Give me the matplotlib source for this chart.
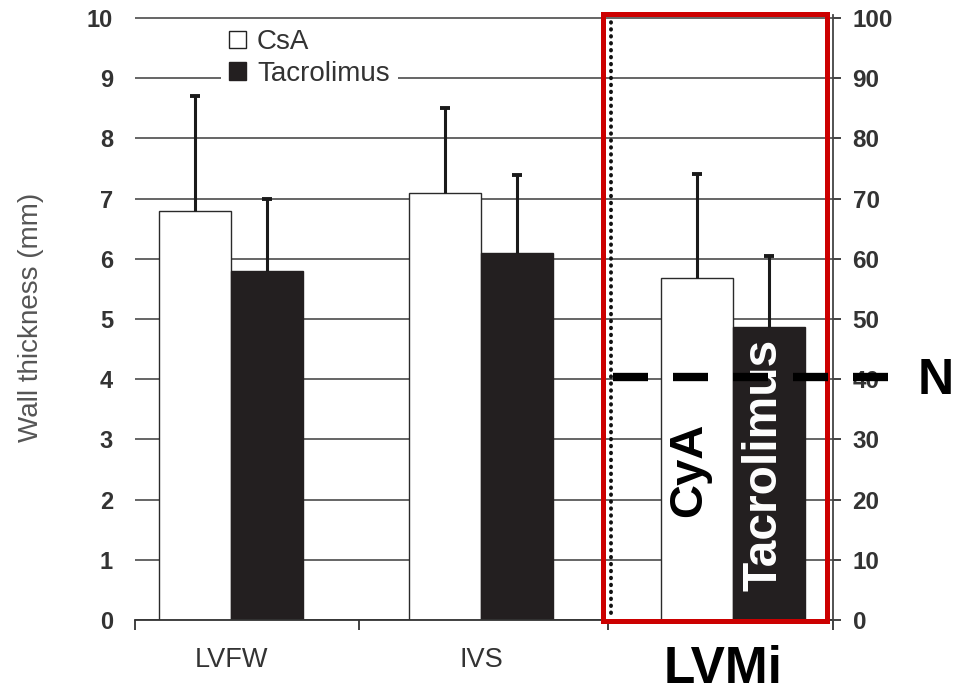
import matplotlib
matplotlib.use("Agg")
import matplotlib.pyplot as plt
import numpy as np
from matplotlib.patches import Patch, Rectangle

plt.rcParams['font.family'] = ['Liberation Sans', 'DejaVu Sans']
plt.rcParams['lines.scale_dashes'] = False

# ---- data ----
groups = ["LVFW", "IVS", "LVMi"]
series = ["CsA", "Tacrolimus"]
wall_csa = [6.8, 7.1]          # mm
wall_csa_sd = [1.9, 1.4]
wall_tac = [5.8, 6.1]          # mm
wall_tac_sd = [1.2, 1.3]
lvmi_csa = [56.8]              # right-hand scale
lvmi_csa_sd = [17.3]
lvmi_tac = [48.6]
lvmi_tac_sd = [11.9]
lvmi_normal = 40.3
left_ticks = list(range(0, 11))
right_ticks = list(range(0, 101, 10))

# ---- layout ----
centers = np.array([0.413, 1.487, 2.570])
bounds = [0.0, 0.963, 2.033, 3.0]
w = 0.309
ink = '#231f20'
txt = '#333333'


def upper_errorbar(axis, x, y, sd):
    """One-sided (upward) error bar with a cap only at the top."""
    n = len(y)
    _, caps, _ = axis.errorbar(x, y, yerr=[np.zeros(n), sd], fmt='none',
                               ecolor='#1a1a1a', elinewidth=2.2, capsize=3.8,
                               capthick=2.8, zorder=3)
    caps[0].set_visible(False)


fig = plt.figure(figsize=(9.55, 6.94), dpi=100)
ax = fig.add_axes([135 / 955, 74 / 694, 698 / 955, 605 / 694])
ax.set_xlim(0, 3)
ax.set_ylim(0, 10.05)

# wall thickness bars
xw = centers[:2]
ax.bar(xw - w / 2, wall_csa, w, color='white', edgecolor='#2a2a2a', linewidth=1.0, zorder=2)
ax.bar(xw + w / 2, wall_tac, w, color=ink, edgecolor=ink, linewidth=1.0, zorder=2)
upper_errorbar(ax, xw - w / 2, wall_csa, wall_csa_sd)
upper_errorbar(ax, xw + w / 2, wall_tac, wall_tac_sd)

ax.set_yticks(left_ticks)
ax.yaxis.grid(True, color='#3c3c3c', linewidth=1.1)
ax.set_axisbelow(True)
for s in ('left', 'top', 'right'):
    ax.spines[s].set_visible(False)
ax.spines['bottom'].set_color('#333333')
ax.spines['bottom'].set_linewidth(1.3)
ax.tick_params(axis='y', length=0, pad=15.8, labelsize=17, labelcolor=txt)
for t in ax.get_yticklabels():
    t.set_fontweight('bold')

ax.set_xticks(centers[:2])
ax.set_xticklabels(groups[:2])
ax.set_xticks(bounds, minor=True)
ax.tick_params(axis='x', which='major', length=0, pad=19.5, labelsize=19.5, labelcolor=txt)
ax.tick_params(axis='x', which='minor', length=7.2, width=1.3, color='#333333')
ax.text(2.529, -1.05, groups[2], fontsize=37, fontweight='bold', color='black',
        ha='center', va='baseline', clip_on=False)

ax.set_ylabel("Wall thickness (mm)", fontsize=20, color='#555555', labelpad=31)

ax.legend(handles=[Patch(facecolor='white', edgecolor='#222222', linewidth=1.0),
                   Patch(facecolor=ink, edgecolor=ink)],
          labels=series, loc='upper left', bbox_to_anchor=(0.123, 0.99),
          borderaxespad=0, frameon=True, facecolor='white', edgecolor='none',
          framealpha=1, fancybox=False, fontsize=20, handlelength=0.6,
          handleheight=0.6, handletextpad=0.4, labelspacing=0.2,
          borderpad=0.3, labelcolor=txt)

# ---- right-hand LVMi scale ----
ax2 = ax.twinx()
ax2.set_ylim(0, 100.5)
ax2.set_yticks(right_ticks)
for s in ('left', 'top', 'bottom'):
    ax2.spines[s].set_visible(False)
ax2.spines['right'].set_color('#444444')
ax2.spines['right'].set_linewidth(1.3)
ax2.tick_params(axis='y', length=5.5, width=1.3, color='#333333', pad=8.6,
                labelsize=17.5, labelcolor=txt)
for t in ax2.get_yticklabels():
    t.set_fontweight('bold')

xl = centers[2]
ax2.bar([xl - w / 2], lvmi_csa, w, color='white', edgecolor='#2a2a2a', linewidth=1.0, zorder=2)
ax2.bar([xl + w / 2], lvmi_tac, w, color=ink, edgecolor=ink, linewidth=1.0, zorder=2)
upper_errorbar(ax2, [xl - w / 2], lvmi_csa, lvmi_csa_sd)
upper_errorbar(ax2, [xl + w / 2], lvmi_tac, lvmi_tac_sd)

ax2.text(xl - w / 2 - 0.036, 24.9, "CyA", rotation=90, fontsize=34, fontweight='bold',
         ha='center', va='center', color='black', zorder=4)
ax2.text(xl + w / 2 - 0.022, 25.7, "Tacrolimus", rotation=90, fontsize=34.5, fontweight='bold',
         ha='center', va='center', color='white', zorder=4)

# dotted divider and highlight box
ax2.plot([2.046, 2.046], [1.2, 100], color='#111111', linewidth=2.8,
         dashes=(0.4, 4.6), dash_capstyle='round', zorder=4)
ax2.add_patch(Rectangle((2.011, -0.17), 2.974 - 2.011, 100.6 + 0.17, fill=False,
                        edgecolor='#cc0000', linewidth=3.6, clip_on=False, zorder=5))

# normal reference level
ax2.plot([2.054, 3.245], [lvmi_normal, lvmi_normal], color='black', linewidth=6,
         dashes=(25.2, 18), dash_capstyle='butt', clip_on=False, zorder=6)
ax2.text(3.365, lvmi_normal - 2.7, "N", fontsize=36, fontweight='bold', ha='left',
         va='baseline', color='black', clip_on=False)

fig.savefig("out.png", dpi=100)
